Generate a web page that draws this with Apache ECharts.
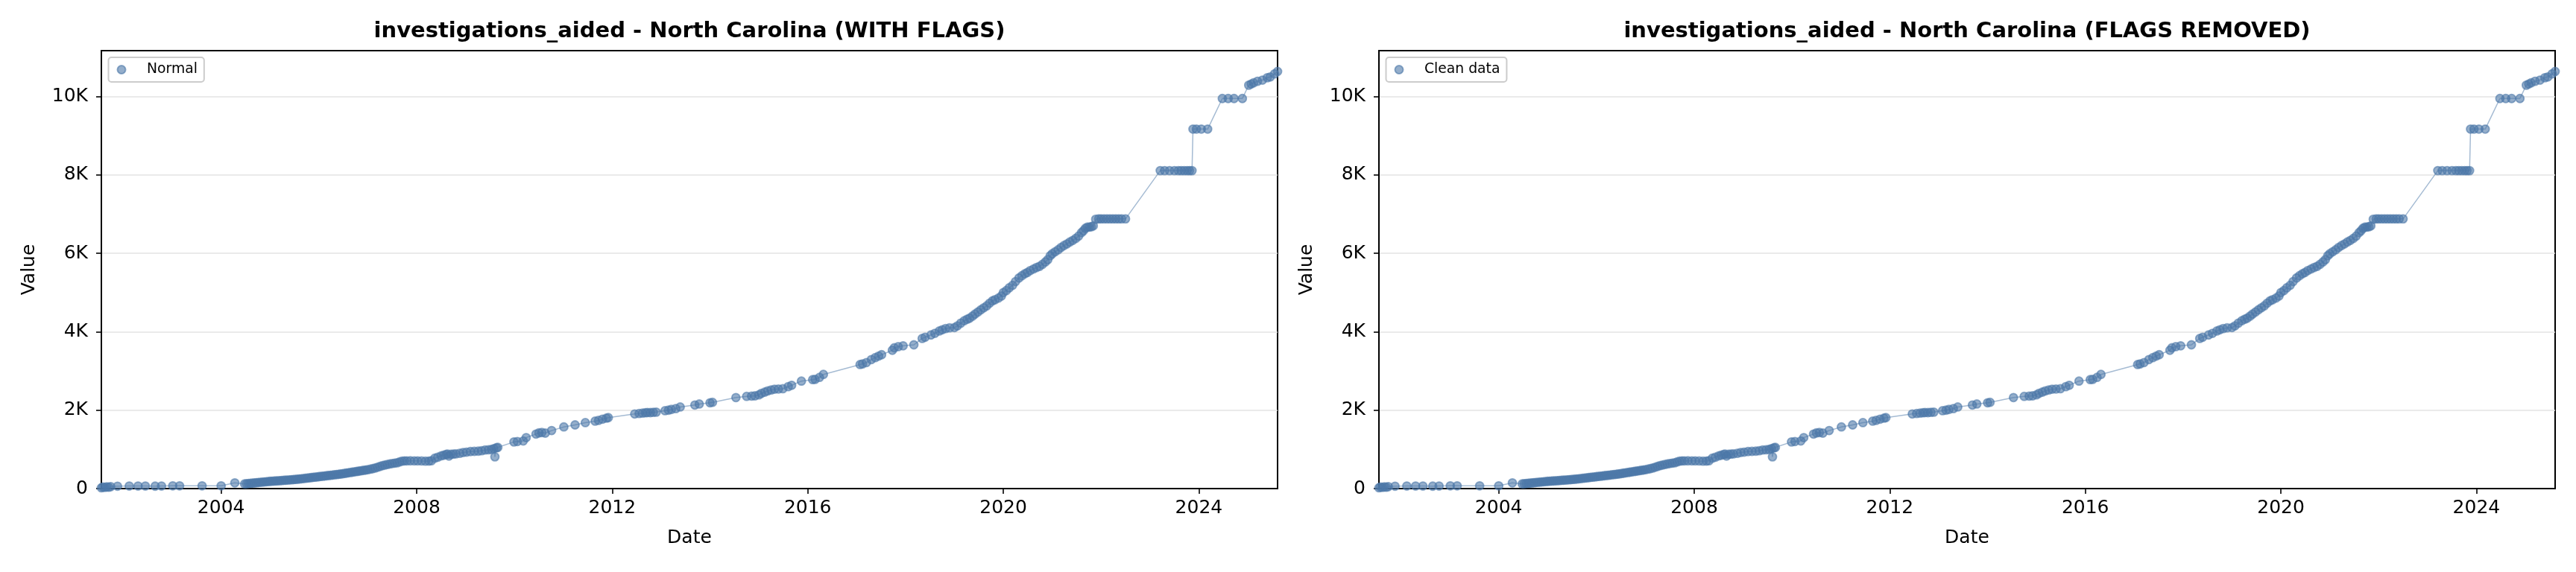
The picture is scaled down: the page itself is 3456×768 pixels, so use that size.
<!DOCTYPE html>
<html>
<head>
<meta charset="utf-8">
<script src="https://cdn.jsdelivr.net/npm/echarts@6/dist/echarts.min.js"></script>
<style>
html,body{margin:0;padding:0;background:#fff;}
#chart{width:3456px;height:768px;}
</style>
</head>
<body>
<div id="chart"></div>
<script>
// ---- data (dates as decimal years) ----
const dateYear = [
  2001.55,2001.58,2001.62,2001.66,2001.70,2001.74,2001.88,2002.12,2002.30,2002.45,2002.65,2002.78,2003.01,2003.15,2003.61,2004.00,2004.28,
  2004.48,2004.52,2004.56,2004.60,2004.64,2004.68,2004.72,2004.76,2004.80,2004.84,2004.88,2004.92,2004.96,2005.00,2005.04,2005.08,2005.12,2005.16,2005.20,2005.24,2005.28,2005.32,2005.36,2005.40,2005.44,2005.48,2005.52,2005.56,2005.60,2005.64,2005.68,2005.72,2005.76,2005.80,2005.84,2005.88,2005.92,2005.96,
  2006.00,2006.04,2006.08,2006.12,2006.16,2006.20,2006.24,2006.28,2006.32,2006.36,2006.40,2006.44,2006.48,2006.52,2006.56,2006.60,2006.64,2006.68,2006.72,2006.76,2006.80,2006.84,2006.88,2006.92,2006.96,
  2007.00,2007.05,2007.10,2007.15,2007.20,2007.25,2007.30,2007.35,2007.40,2007.45,2007.50,2007.55,2007.60,2007.65,2007.70,2007.75,
  2007.80,2007.87,2007.95,2008.02,2008.10,2008.18,2008.25,2008.30,
  2008.37,2008.43,2008.50,2008.55,2008.60,2008.63,2008.66,2008.70,2008.75,2008.80,2008.88,2008.95,2009.02,2009.10,2009.18,2009.26,2009.33,2009.40,2009.47,2009.53,2009.58,2009.60,2009.63,2009.66,
  2009.99,2010.06,2010.18,2010.24,2010.44,2010.50,2010.56,2010.63,2010.76,2011.01,2011.24,2011.45,2011.65,2011.72,2011.80,2011.88,2011.92,
  2012.46,2012.55,2012.62,2012.68,2012.72,2012.78,2012.84,2012.90,2013.08,2013.15,2013.21,2013.30,2013.39,2013.69,2013.78,2014.00,2014.05,
  2014.53,2014.75,2014.85,2014.92,2015.00,2015.05,2015.12,2015.18,2015.25,2015.32,2015.40,2015.49,2015.60,2015.67,2015.87,2016.10,2016.15,2016.24,2016.32,
  2017.07,2017.12,2017.20,2017.30,2017.38,2017.45,2017.51,2017.73,2017.77,2017.85,2017.95,2018.17,2018.34,2018.40,2018.52,2018.60,2018.69,2018.75,2018.82,2018.90,
  2019.00,2019.06,2019.13,2019.20,2019.26,2019.31,2019.37,2019.42,2019.48,2019.54,2019.60,2019.66,2019.72,2019.78,2019.83,2019.90,2019.96,
  2020.00,2020.06,2020.12,2020.19,2020.25,2020.32,2020.38,2020.44,2020.49,2020.55,2020.62,2020.68,2020.74,2020.80,2020.86,2020.91,2020.96,
  2021.00,2021.06,2021.12,2021.18,2021.24,2021.30,2021.36,2021.42,2021.48,2021.54,2021.60,2021.64,2021.68,2021.72,2021.76,2021.80,2021.84,
  2021.89,2021.95,2022.00,2022.06,2022.12,2022.18,2022.24,2022.30,2022.36,2022.42,2022.50,
  2023.21,2023.30,2023.40,2023.50,2023.58,2023.64,2023.70,2023.76,2023.81,2023.86,
  2023.88,2023.95,2024.05,2024.18,
  2024.48,2024.60,2024.72,2024.89,
  2025.02,2025.07,2025.12,2025.20,2025.30,2025.40,2025.46,2025.55,2025.61
];
const values = [
  20,40,30,45,35,50,60,65,65,65,62,65,70,70,70,70,146,
  120,125,130,135,140,145,150,155,160,165,170,175,180,185,188,192,195,198,202,206,210,214,218,222,226,230,235,240,245,250,256,262,268,274,280,286,292,298,
  304,310,316,322,328,334,340,346,352,358,364,370,378,386,394,402,410,418,426,434,442,450,458,466,474,
  482,495,508,525,545,565,585,600,615,628,640,650,658,680,700,707,
  707,708,707,706,705,700,702,710,
  775,800,835,850,870,880,830,875,880,885,900,920,930,945,950,955,965,985,990,1000,1020,810,1040,1050,
  1190,1200,1215,1300,1390,1420,1430,1415,1480,1573,1624,1682,1720,1740,1770,1796,1810,
  1904,1915,1925,1935,1940,1938,1945,1950,1987,2000,2019,2040,2082,2132,2157,2189,2200,
  2321,2352,2360,2365,2390,2428,2460,2491,2515,2535,2540,2547,2600,2635,2742,2780,2786,2836,2912,
  3164,3180,3214,3290,3340,3380,3415,3528,3591,3620,3642,3667,3830,3860,3918,3960,4019,4050,4082,4100,
  4107,4150,4220,4280,4320,4346,4400,4450,4503,4560,4610,4660,4730,4790,4818,4860,4912,
  5000,5050,5120,5186,5280,5372,5430,5480,5511,5560,5604,5640,5669,5720,5780,5840,5940,
  5990,6040,6090,6150,6200,6240,6290,6330,6380,6440,6530,6580,6640,6670,6670,6680,6700,
  6870,6880,6880,6880,6880,6880,6880,6880,6880,6880,6880,
  8110,8110,8110,8110,8110,8110,8110,8110,8110,8110,
  9170,9170,9170,9170,
  9950,9950,9950,9950,
  10290,10320,10350,10390,10420,10480,10500,10580,10640
];
const xTickYears = [2004, 2008, 2012, 2016, 2020, 2024];
const yTickValues = [0, 2000, 4000, 6000, 8000, 10000];
const chartTitles = [
  'investigations_aided - North Carolina (WITH FLAGS)',
  'investigations_aided - North Carolina (FLAGS REMOVED)'
];
const seriesNames = ['Normal', 'Clean data'];

// ---- chart ----
const points = dateYear.map((d, i) => [d, values[i]]);
const FONT = 'DejaVu Sans';
const BLUE = '76,120,168';
const grids = [
  {left: 136, top: 68, width: 1578, height: 588},
  {left: 1850, top: 68, width: 1578, height: 588}
];

const option = {
  animation: false,
  backgroundColor: '#ffffff',
  textStyle: {fontFamily: FONT},
  title: grids.map((g, i) => ({
    text: chartTitles[i],
    left: g.left + g.width / 2,
    top: 28,
    textAlign: 'center',
    padding: 0,
    textStyle: {fontFamily: FONT, fontSize: 29, fontWeight: 'bold', color: '#000'}
  })),
  legend: grids.map((g, i) => ({
    gridIndex: i,
    data: [seriesNames[i]],
    left: g.left + 9.5,
    top: 77,
    orient: 'vertical',
    padding: [7, 9, 7, 11],
    itemWidth: 30,
    itemHeight: 11,
    icon: 'circle',
    backgroundColor: 'rgba(255,255,255,0.8)',
    borderColor: '#cccccc',
    borderWidth: 2,
    borderRadius: 4,
    textStyle: {fontFamily: FONT, fontSize: 18.75, color: '#000', padding: [0, 0, 0, 14]}
  })),
  grid: grids.map(g => Object.assign({
    show: true, borderColor: '#000', borderWidth: 2, backgroundColor: 'transparent', containLabel: false
  }, g)),
  xAxis: grids.map((g, i) => ({
    gridIndex: i,
    type: 'value',
    min: v => v.min,
    max: v => v.max,
    name: 'Date',
    nameLocation: 'middle',
    nameGap: 54,
    nameTextStyle: {fontFamily: FONT, fontSize: 25, color: '#000'},
    axisLine: {show: true, onZero: false, lineStyle: {color: '#000', width: 2}},
    axisTick: {show: true, length: 7, inside: false, customValues: xTickYears, lineStyle: {color: '#000', width: 1.6}},
    axisLabel: {show: true, margin: 14, customValues: xTickYears, fontFamily: FONT, fontSize: 25, color: '#000',
      formatter: v => String(Math.round(v))},
    splitLine: {show: false}
  })),
  yAxis: grids.map((g, i) => ({
    gridIndex: i,
    type: 'value',
    min: 0,
    max: v => v.max + 0.05 * (v.max - v.min),
    name: 'Value',
    nameLocation: 'middle',
    nameGap: 84,
    nameTextStyle: {fontFamily: FONT, fontSize: 25, color: '#000'},
    axisLine: {show: true, onZero: false, lineStyle: {color: '#000', width: 2}},
    axisTick: {show: true, length: 7, inside: false, customValues: yTickValues, lineStyle: {color: '#000', width: 1.6}},
    axisLabel: {show: true, margin: 18, customValues: yTickValues, fontFamily: FONT, fontSize: 25, color: '#000',
      formatter: v => v === 0 ? '0' : (v / 1000) + 'K'},
    interval: 2000,
    splitLine: {show: true, lineStyle: {color: '#e3e3e3', width: 1.6}}
  })),
  series: []
};

grids.forEach((g, i) => {
  option.series.push({
    type: 'line',
    xAxisIndex: i, yAxisIndex: i,
    data: points,
    showSymbol: false,
    silent: true,
    z: 2,
    lineStyle: {color: `rgba(${BLUE},0.5)`, width: 1.5}
  });
  option.series.push({
    type: 'scatter',
    name: seriesNames[i],
    xAxisIndex: i, yAxisIndex: i,
    data: points,
    symbol: 'circle',
    symbolSize: 11,
    z: 3,
    itemStyle: {color: `rgba(${BLUE},0.6)`, borderColor: `rgba(${BLUE},0.6)`, borderWidth: 1.8, opacity: 1}
  });
});

const chart = echarts.init(document.getElementById('chart'), null, {renderer: 'canvas', width: 3456, height: 768});
chart.setOption(option);
</script>
</body>
</html>
